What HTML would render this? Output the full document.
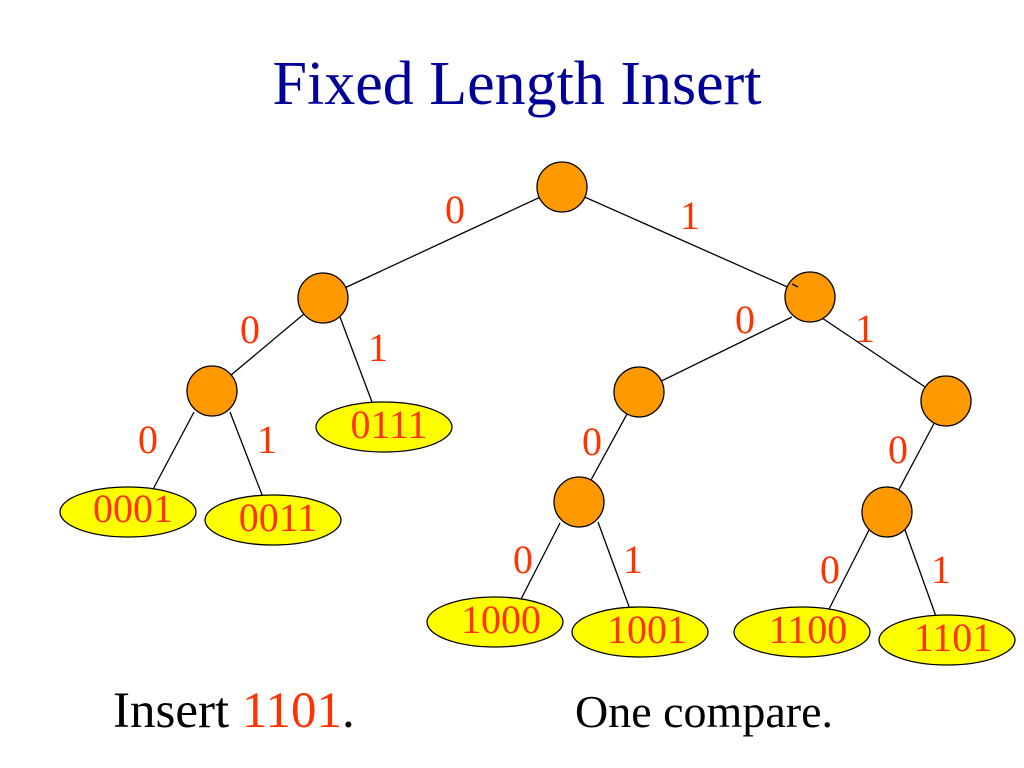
<!DOCTYPE html>
<html><head><meta charset="utf-8"><style>
body{margin:0;background:#fff;}
svg{display:block}
</style></head><body>
<svg width="1024" height="768" xmlns="http://www.w3.org/2000/svg" font-family="Liberation Serif, serif">
<text x="517" y="104" text-anchor="middle" font-size="62" fill="#000099">Fixed Length Insert</text>
<g stroke="#000" stroke-width="1.3">
<line x1="562" y1="187" x2="323" y2="298"/>
<line x1="562" y1="187" x2="810" y2="297"/>
<line x1="323" y1="298" x2="212" y2="391"/>
<line x1="340" y1="317" x2="375" y2="410"/>
<line x1="194" y1="412" x2="150" y2="495"/>
<line x1="230" y1="412" x2="264" y2="500"/>
<line x1="792" y1="317" x2="639" y2="392"/>
<line x1="819" y1="316" x2="946" y2="401"/>
<line x1="639" y1="392" x2="579" y2="502"/>
<line x1="946" y1="401" x2="887" y2="512"/>
<line x1="560" y1="523" x2="518" y2="605"/>
<line x1="598" y1="522" x2="631" y2="612"/>
<line x1="869" y1="530" x2="826" y2="615"/>
<line x1="905" y1="530" x2="938" y2="622"/>
</g>
<g fill="#ff9900" stroke="#000" stroke-width="1.3">
<ellipse cx="562" cy="187" rx="25" ry="25"/>
<ellipse cx="323" cy="298" rx="25" ry="25"/>
<ellipse cx="212" cy="391" rx="25" ry="25"/>
<ellipse cx="639" cy="392" rx="25" ry="25"/>
<ellipse cx="946" cy="401" rx="25" ry="25"/>
<ellipse cx="579" cy="502" rx="25" ry="25"/>
<ellipse cx="887" cy="512" rx="25" ry="25"/>
</g>
<ellipse cx="810" cy="297" rx="25" ry="25" fill="#ff9900" stroke="#000" stroke-width="1.3"/>
<g stroke="#000" stroke-width="1.3">
<line x1="798" y1="287" x2="792" y2="284"/>
</g>
<g fill="#ffff00" stroke="#000" stroke-width="1.3">
<ellipse cx="384" cy="427" rx="68" ry="25"/>
<ellipse cx="128" cy="512" rx="68" ry="25"/>
<ellipse cx="273" cy="520" rx="68" ry="25"/>
<ellipse cx="495" cy="622" rx="68" ry="25"/>
<ellipse cx="640" cy="632" rx="68" ry="25"/>
<ellipse cx="802" cy="632" rx="68" ry="25"/>
<ellipse cx="947" cy="640" rx="68" ry="25"/>
</g>
<g fill="#ff3300" font-size="40" text-anchor="middle">
<text x="389" y="438">0111</text>
<text x="133" y="522">0001</text>
<text x="278" y="531">0011</text>
<text x="501" y="633">1000</text>
<text x="647" y="643">1001</text>
<text x="808" y="643">1100</text>
<text x="953" y="651">1101</text>
<text x="455" y="223">0</text>
<text x="690" y="229">1</text>
<text x="250" y="343">0</text>
<text x="378" y="361">1</text>
<text x="148" y="453">0</text>
<text x="267" y="453">1</text>
<text x="745" y="333">0</text>
<text x="865" y="342">1</text>
<text x="592" y="455">0</text>
<text x="898" y="463">0</text>
<text x="523" y="573">0</text>
<text x="633" y="573">1</text>
<text x="830" y="583">0</text>
<text x="941" y="583">1</text>
</g>
<text x="113" y="727" font-size="51" fill="#000">Insert <tspan fill="#ff3300">1101</tspan>.</text>
<text x="575" y="727" font-size="46" fill="#000">One compare.</text>
</svg>
</body></html>
